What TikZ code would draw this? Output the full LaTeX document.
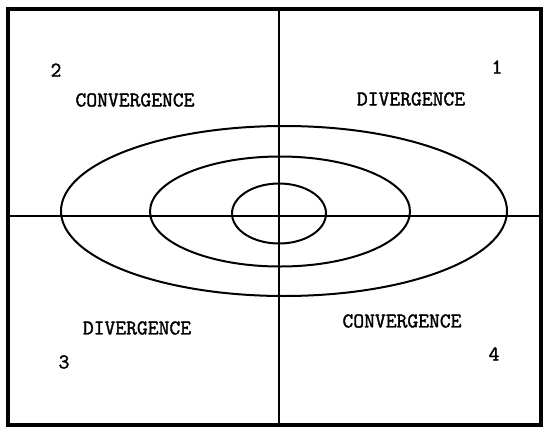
\documentclass[tikz,border=0pt]{standalone}
\usepackage{fontspec}
\newfontfamily\typer[FakeBold=1.6]{Latin Modern Mono}
\usepackage{tikz}
\usetikzlibrary{positioning}

\begin{document}
\begin{tikzpicture}[x=1pt, y=-1pt,
    every node/.style={font=\typer\fontsize{21}{23}\selectfont, inner sep=0pt},
    frame/.style={line width=3.2pt},
    axis/.style={line width=1.5pt},
    contour/.style={line width=2pt}]

    \useasboundingbox (0,0) rectangle (545,431);

    %% Frame and quadrant axes
    \coordinate (tl) at (8,9);
    \coordinate (br) at (541,425);
    \draw[frame] (tl) rectangle (br);
    \coordinate (vtop) at (279,9);
    \coordinate (vbot) at (279,425);
    \coordinate (hleft) at (8,216);
    \coordinate (hright) at (541,216);
    \draw[axis] (vtop) -- (vbot);
    \draw[axis] (hleft) -- (hright);

    %% Contours
    \draw[contour] (284,211) ellipse [x radius=223, y radius=85];
    \draw[contour] (280,211.5) ellipse [x radius=130, y radius=55];
    \draw[contour] (279,213.5) ellipse [x radius=47, y radius=30];

    %% Quadrant labels
    \node (q2) at (56,70) {2};
    \node (conv2) at (135,100) {CONVERGENCE};
    \node (q1) at (497,67) {1};
    \node (div1) at (411,99) {DIVERGENCE};
    \node (div3) at (137,328) {DIVERGENCE};
    \node (q3) at (64,362) {3};
    \node (conv4) at (402,321) {CONVERGENCE};
    \node (q4) at (494,354) {4};
\end{tikzpicture}
\end{document}
